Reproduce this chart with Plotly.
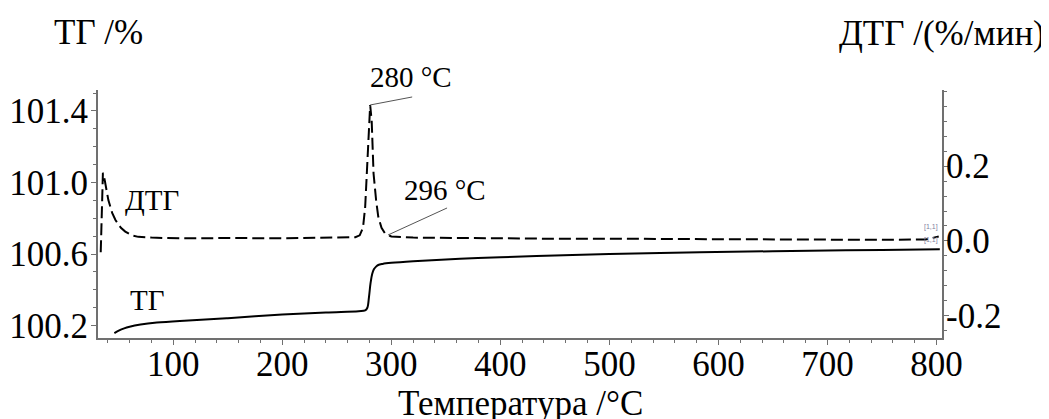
import plotly.graph_objects as go

# ---- data ----
tg_temp = [46, 50, 55, 60, 70, 85, 110, 150, 200, 240, 270, 276, 278, 279.5, 281, 282.5, 284, 286, 288, 292, 300, 320, 363, 400, 450, 500, 583, 650, 700, 750, 803]
tg_val = [100.158, 100.172, 100.185, 100.194, 100.206, 100.217, 100.228, 100.242, 100.262, 100.274, 100.281, 100.285, 100.30, 100.36, 100.44, 100.49, 100.515, 100.530, 100.539, 100.545, 100.551, 100.560, 100.574, 100.582, 100.592, 100.600, 100.610, 100.616, 100.620, 100.623, 100.627]

dtg_temp = [33.5, 34.5, 35.5, 37, 39, 40.5, 44, 47, 52, 56, 62, 68, 80, 90, 120, 150, 200, 250, 267, 271, 274, 276, 277.6, 279, 280.6, 282, 283.7, 286, 288, 291, 294, 297, 300, 320, 350, 400, 450, 500, 550, 600, 650, 700, 750, 790, 797, 802]
dtg_val = [-0.03, 0.06, 0.182, 0.165, 0.13, 0.109, 0.075, 0.056, 0.035, 0.025, 0.015, 0.011, 0.009, 0.008, 0.007, 0.008, 0.007, 0.008, 0.010, 0.015, 0.035, 0.09, 0.18, 0.29, 0.363, 0.32, 0.18, 0.11, 0.065, 0.035, 0.021, 0.016, 0.012, 0.009, 0.008, 0.007, 0.006, 0.006, 0.005, 0.004, 0.004, 0.003, 0.003, 0.004, 0.008, 0.012]

x_ticks = [100, 200, 300, 400, 500, 600, 700, 800]
y_ticks = [100.2, 100.6, 101.0, 101.4]
y2_ticks = [-0.2, 0.0, 0.2]
y2_ticktext = ["-0.2", "0.0", "0.2"]

peak1_t, peak1_v = 280.6, 0.363
peak2_t, peak2_v = 297, 0.016

FONT = "Liberation Serif, Times New Roman, serif"
AX = "#707070"
TICK_SIZE = 35
TITLE_SIZE = 35

fig = go.Figure()
fig.add_trace(go.Scatter(x=tg_temp, y=tg_val, mode="lines", line=dict(color="black", width=2), yaxis="y", showlegend=False, line_shape="spline"))
fig.add_trace(go.Scatter(x=dtg_temp, y=dtg_val, mode="lines", line=dict(color="black", width=2, dash="12px,5px"), yaxis="y2", showlegend=False))

tickfont = dict(family=FONT, size=TICK_SIZE, color="black")
fig.update_layout(
    width=1041, height=411,
    margin=dict(l=90, r=107, t=82, b=81, autoexpand=False),
    paper_bgcolor="white", plot_bgcolor="white",
    font=dict(family=FONT, color="black"),
    xaxis=dict(range=[31, 805], tickvals=x_ticks, ticks="outside", ticklen=5, tickcolor=AX, automargin=False,
               showline=True, linecolor=AX, linewidth=2, showgrid=False, zeroline=False,
               tickfont=tickfont, ticklabelstandoff=-11,
               minor=dict(dtick=20, tick0=0, ticks="outside", ticklen=3, tickcolor=AX)),
    yaxis=dict(range=[100.131, 101.517], tickvals=y_ticks, tickformat=".1f", ticks="outside", ticklen=5, tickcolor=AX, automargin=False,
               showline=True, linecolor=AX, linewidth=2, showgrid=False, zeroline=False,
               tickfont=tickfont, ticklabelstandoff=-4,
               minor=dict(dtick=0.1, tick0=100.2, ticks="outside", ticklen=3, tickcolor=AX)),
    yaxis2=dict(range=[-0.259, 0.403], overlaying="y", side="right", tickvals=y2_ticks, ticktext=y2_ticktext,
                ticks="outside", ticklen=5, tickcolor=AX, automargin=False,
                showline=True, linecolor=AX, linewidth=2, showgrid=False, zeroline=False,
                tickfont=tickfont, ticklabelstandoff=-10,
                minor=dict(dtick=0.04, tick0=0, ticks="outside", ticklen=3, tickcolor=AX)),
)

ann_font = dict(family=FONT, size=29, color="black")
title_font = dict(family=FONT, size=TITLE_SIZE, color="black")
fig.add_annotation(text="ТГ /%", xref="paper", yref="paper", x=0, y=1 + 58 / 248, xanchor="center", yanchor="middle", showarrow=False, font=title_font)
fig.add_annotation(text="ДТГ /(%/мин)", xref="paper", yref="paper", x=1, y=1 + 57 / 248, xanchor="center", yanchor="middle", showarrow=False, font=title_font)
fig.add_annotation(text="Температура /°C", xref="paper", yref="paper", x=0.5, y=-65 / 248, xanchor="center", yanchor="middle", showarrow=False, font=title_font)
fig.add_annotation(text="ДТГ", x=80.8, y=100.9, xref="x", yref="y", showarrow=False, font=ann_font)
fig.add_annotation(text="ТГ", x=76, y=100.345, xref="x", yref="y", showarrow=False, font=ann_font)

fig.add_annotation(text="280 °C", x=peak1_t, y=peak1_v, xref="x", yref="y2", showarrow=False, xshift=41, yshift=28, font=ann_font)
fig.add_annotation(text="296 °C", x=peak2_t, y=peak2_v, xref="x", yref="y2", showarrow=False, xshift=57, yshift=45, font=ann_font)

fig.add_shape(type="line", xref="x", yref="y2", xsizemode="pixel", ysizemode="pixel",
              xanchor=peak1_t, yanchor=peak1_v, x0=0, y0=0, x1=42, y1=8, line=dict(color="#555555", width=1))
fig.add_shape(type="line", xref="x", yref="y2", xsizemode="pixel", ysizemode="pixel",
              xanchor=peak2_t, yanchor=peak2_v, x0=0, y0=0, x1=59, y1=27, line=dict(color="#555555", width=1))

small = dict(family="Liberation Sans, Arial", size=7, color="#8080a0")
fig.add_annotation(text="[1,1]", x=800, y=0.038, xref="x", yref="y2", showarrow=False, xshift=-6, font=small)
fig.add_annotation(text="[1,1]", x=800, y=0.003, xref="x", yref="y2", showarrow=False, xshift=-6, font=small)

fig.write_html("out.html")
